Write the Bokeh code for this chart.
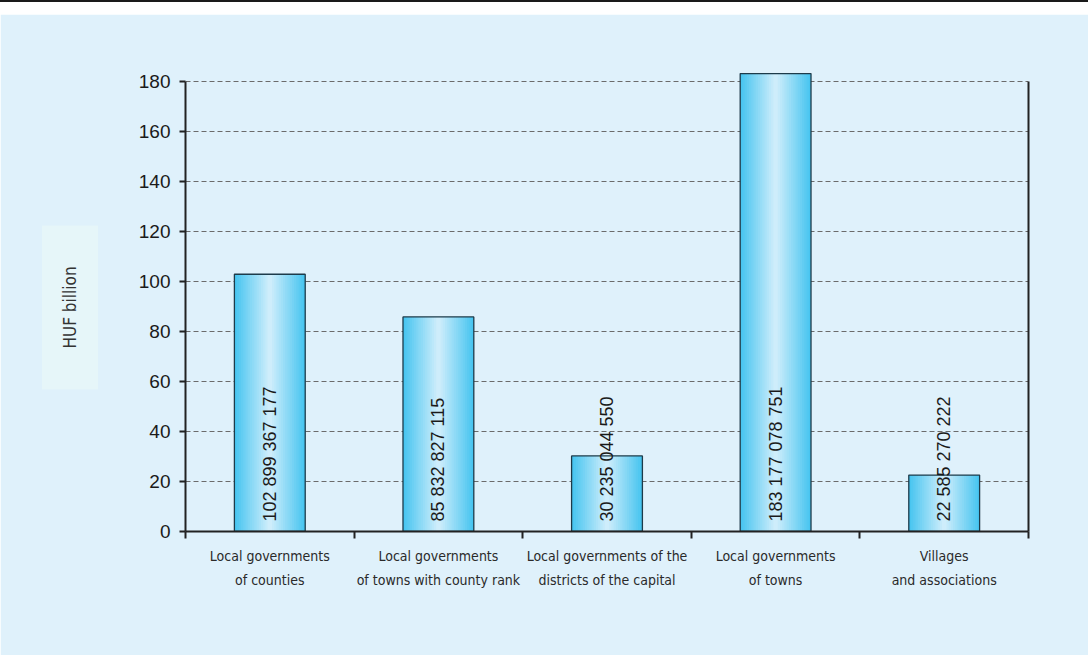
from math import pi
from bokeh.plotting import figure
from bokeh.models import (ColumnDataSource, FixedTicker, LinearAxis, Range1d,
                          Title, Div)
from bokeh.layouts import column
from bokeh.embed import file_html
from bokeh.resources import INLINE
from bokeh.core.properties import value

# ---------------- data ----------------
categories = [
    "Local governments\nof counties",
    "Local governments\nof towns with county rank",
    "Local governments of the\ndistricts of the capital",
    "Local governments\nof towns",
    "Villages\nand associations",
]
amounts_huf = [102899367177, 85832827115, 30235044550, 183177078751, 22585270222]
y_ticks = [0, 20, 40, 60, 80, 100, 120, 140, 160, 180]
y_label = "HUF billion"

# ---------------- derived ----------------
n = len(categories)
xs = [i + 0.5 for i in range(n)]
heights = [a / 1e9 for a in amounts_huf]
texts = [f"{a:,}".replace(",", " ") for a in amounts_huf]
src = ColumnDataSource(dict(x=xs, top=heights, label=texts))

BG = "#dff1fb"
COND = "'DejaVu Sans Condensed', 'Liberation Sans', sans-serif"
SANS = "'Liberation Sans', Arial, sans-serif"
BAR_W = 0.42

p = figure(width=1088, height=641, x_range=Range1d(0, n), y_range=Range1d(0, 186),
           output_backend="svg", toolbar_location=None,
           min_border_left=185, min_border_right=60, min_border_top=52,
           min_border_bottom=124, background_fill_color=BG, border_fill_color=BG,
           outline_line_color=BG, outline_line_width=2)

# grid
p.xgrid.visible = False
p.ygrid.ticker = FixedTicker(ticks=y_ticks)
p.ygrid.grid_line_color = "#6b6b6b"
p.ygrid.grid_line_dash = "5 3"
p.ygrid.grid_line_width = 1

# bars with a simulated horizontal gradient
edge = (72, 197, 240)
center = (206, 237, 251)
N = 16
for i in range(N):
    t = i / (N - 1)
    c = tuple(int(round(edge[k] + (center[k] - edge[k]) * t)) for k in range(3))
    w = BAR_W * (1 - i / N)
    p.vbar(x="x", top="top", bottom=0, width=w, source=src,
           fill_color="#%02x%02x%02x" % c, line_color=None)
p.vbar(x="x", top="top", bottom=0, width=BAR_W, source=src,
       fill_color=None, line_color="#1d3b4a", line_width=1.3)

# value labels
p.text(x="x", y=0, text="label", source=src, angle=pi / 2,
       text_align="left", text_baseline="middle", y_offset=-10,
       text_font=value("Liberation Sans"), text_font_size="18px",
       text_color="#1a1a1a")

# x axis
xa = p.xaxis[0]
xa.ticker = FixedTicker(ticks=xs, minor_ticks=list(range(n + 1)))
xa.major_label_overrides = {x: c for x, c in zip(xs, categories)}
xa.major_tick_out = 0
xa.major_tick_in = 0
xa.minor_tick_out = 7
xa.minor_tick_in = 0
xa.minor_tick_line_width = 2
xa.minor_tick_line_color = "#222222"
xa.axis_line_width = 2
xa.axis_line_color = "#222222"
xa.major_label_standoff = 9
xa.major_label_text_font = COND
xa.major_label_text_font_size = "14px"
xa.major_label_text_line_height = 1.55
xa.major_label_text_color = "#2a2a2a"

# y axis
ya = p.yaxis[0]
ya.ticker = FixedTicker(ticks=y_ticks)
ya.bounds = (0, 180)
ya.major_tick_out = 6
ya.major_tick_in = 0
ya.minor_tick_out = 0
ya.minor_tick_in = 0
ya.major_tick_line_width = 2
ya.major_tick_line_color = "#222222"
ya.axis_line_width = 2
ya.axis_line_color = "#222222"
ya.major_label_standoff = 9
ya.major_label_text_font = SANS
ya.major_label_text_font_size = "19px"
ya.major_label_text_color = "#1a1a1a"

# right axis line
ra = LinearAxis(ticker=FixedTicker(ticks=[]), bounds=(0, 180),
                major_tick_out=0, major_tick_in=0,
                minor_tick_out=0, minor_tick_in=0, axis_line_width=2,
                axis_line_color="#222222", major_label_text_font_size="0px")
p.add_layout(ra, "right")

# y label with its lighter box (as a side title)
ytitle = Title(text=y_label, align="left", vertical_align="middle",
               text_font=COND, text_font_size="17px", text_font_style="normal",
               text_color="#333333", background_fill_color="#e6f6f9",
               background_fill_alpha=1.0, padding=(41, 18), standoff=27,
               offset=142)
p.add_layout(ytitle, "left")

top_rule = Div(text="", width=1088, height=14, margin=0,
               styles={"border-top": "2px solid #1a1a1a", "box-sizing": "border-box"})

layout = column(top_rule, p)
open("out.html", "w").write(file_html(layout, INLINE))
